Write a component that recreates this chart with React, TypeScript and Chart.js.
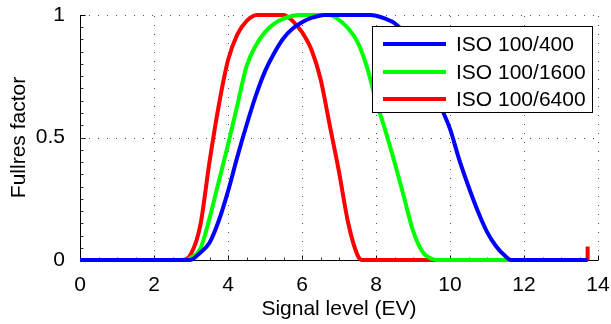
import React, { useEffect, useRef } from 'react';
import { Chart, registerables } from 'chart.js';

Chart.register(...registerables);

const FONT = '"Liberation Sans", Arial, sans-serif';

const seriesLabels = ['ISO 100/400', 'ISO 100/1600', 'ISO 100/6400'];
const seriesColors = ['#0000ff', '#00ff00', '#ff0000'];

const blueX = [0, 2.97, 3.25, 3.5, 3.75, 4.0, 4.25, 4.5, 4.75, 5.0, 5.25, 5.5, 5.75, 6.0, 6.25, 6.5, 6.6, 7.85, 8.0, 8.25, 8.5, 8.75, 9.0, 9.25, 9.5, 9.75, 10.0, 10.25, 10.5, 10.75, 11.0, 11.25, 11.5, 11.65, 13.72];
const blueY = [0, 0, 0.03, 0.07, 0.16, 0.28, 0.42, 0.55, 0.67, 0.77, 0.845, 0.905, 0.945, 0.97, 0.988, 0.998, 1, 1, 0.997, 0.985, 0.967, 0.93, 0.865, 0.785, 0.705, 0.625, 0.535, 0.41, 0.3, 0.2, 0.115, 0.055, 0.015, 0, 0];

const greenX = [0, 2.89, 3.0, 3.25, 3.5, 3.75, 4.0, 4.25, 4.5, 4.75, 5.0, 5.25, 5.5, 5.75, 5.95, 6.75, 7.0, 7.25, 7.5, 7.75, 8.0, 8.25, 8.5, 8.75, 9.0, 9.25, 9.5, 9.65, 13.72];
const greenY = [0, 0, 0.01, 0.045, 0.17, 0.32, 0.47, 0.63, 0.79, 0.875, 0.93, 0.965, 0.985, 0.997, 1, 1, 0.98, 0.945, 0.89, 0.79, 0.65, 0.53, 0.4, 0.26, 0.12, 0.035, 0.005, 0, 0];

const redX = [0, 2.75, 3.0, 3.25, 3.5, 3.75, 4.0, 4.25, 4.5, 4.78, 5.5, 5.75, 6.0, 6.25, 6.5, 6.75, 7.0, 7.25, 7.5, 7.62, 13.72];
const redY = [0, 0, 0.025, 0.14, 0.4, 0.63, 0.815, 0.92, 0.975, 1, 1, 0.975, 0.93, 0.86, 0.74, 0.55, 0.36, 0.15, 0.02, 0, 0];

const spikeX = [13.72, 13.72];
const spikeY = [0, 0.055];

const xTicks = [0, 2, 4, 6, 8, 10, 12, 14];
const yTicks = [0, 0.5, 1];
const yTickLabels = ['0', '0.5', '1'];

const pts = (xs: number[], ys: number[]) => xs.map((x, i) => ({ x, y: ys[i] }));

const framePlugin = {
  id: 'frame',
  beforeDatasetsDraw(chart: any) {
    const { ctx, chartArea: a, scales } = chart;
    const x = scales.x;
    const y = scales.y;
    ctx.save();
    ctx.lineWidth = 1;
    ctx.strokeStyle = '#555';
    ctx.setLineDash([1, 8]);
    for (const v of xTicks) {
      if (v === 0) continue;
      const px = Math.round(x.getPixelForValue(v)) + 0.5;
      ctx.beginPath();
      ctx.moveTo(px, a.bottom);
      ctx.lineTo(px, a.top);
      ctx.stroke();
    }
    for (const v of yTicks) {
      if (v === 0) continue;
      const py = Math.round(y.getPixelForValue(v)) + 0.5;
      ctx.beginPath();
      ctx.moveTo(a.left, py);
      ctx.lineTo(a.right, py);
      ctx.stroke();
    }
    ctx.setLineDash([]);
    ctx.strokeStyle = '#000';
    const lx = Math.round(a.left) + 0.5;
    const by = Math.round(a.bottom) + 0.5;
    ctx.beginPath();
    ctx.moveTo(lx, a.top);
    ctx.lineTo(lx, by);
    ctx.lineTo(a.right, by);
    ctx.stroke();
    ctx.beginPath();
    for (const v of xTicks) {
      const px = Math.round(x.getPixelForValue(v)) + 0.5;
      ctx.moveTo(px, by);
      ctx.lineTo(px, by - 5);
    }
    for (const v of yTicks) {
      const py = Math.round(y.getPixelForValue(v)) + 0.5;
      ctx.moveTo(lx, py);
      ctx.lineTo(lx + 5, py);
    }
    ctx.stroke();
    ctx.strokeStyle = '#333';
    ctx.beginPath();
    for (let i = 1; i < 28; i++) {
      const px = Math.round(x.getPixelForValue(i * 0.5)) + 0.5;
      ctx.moveTo(px, by);
      ctx.lineTo(px, by - 3);
    }
    for (let i = 1; i < 20; i++) {
      const py = Math.round(y.getPixelForValue(i * 0.05)) + 0.5;
      ctx.moveTo(lx, py);
      ctx.lineTo(lx + 3, py);
    }
    ctx.stroke();
    ctx.restore();
  },
  afterDatasetsDraw(chart: any) {
    const { ctx } = chart;
    ctx.save();
    const bx = 372.5, byy = 26.5, bw = 220, bh = 86;
    ctx.fillStyle = '#fff';
    ctx.fillRect(bx, byy, bw, bh);
    ctx.strokeStyle = '#000';
    ctx.lineWidth = 1;
    ctx.strokeRect(bx, byy, bw, bh);
    ctx.font = '21px ' + FONT;
    ctx.textBaseline = 'middle';
    ctx.textAlign = 'left';
    const rows = [44, 72, 99];
    seriesLabels.forEach((lab, i) => {
      ctx.strokeStyle = seriesColors[i];
      ctx.lineWidth = 4;
      ctx.beginPath();
      ctx.moveTo(383, rows[i]);
      ctx.lineTo(446, rows[i]);
      ctx.stroke();
      ctx.fillStyle = '#000';
      ctx.fillText(lab, 456, rows[i] + 1);
    });
    ctx.restore();
  },
};

export default function App() {
  const ref = useRef<HTMLCanvasElement | null>(null);
  useEffect(() => {
    if (!ref.current) return;
    const ds = (label: string, xs: number[], ys: number[], color: string) => ({
      label,
      data: pts(xs, ys),
      borderColor: color,
      backgroundColor: color,
      borderWidth: 4,
      pointRadius: 0,
      fill: false,
      cubicInterpolationMode: 'monotone' as const,
      clip: false as any,
    });
    const chart = new Chart(ref.current, {
      type: 'line',
      data: {
        datasets: [
          ds(seriesLabels[0], blueX, blueY, seriesColors[0]),
          ds(seriesLabels[1], greenX, greenY, seriesColors[1]),
          ds(seriesLabels[2], redX, redY, seriesColors[2]),
          { ...ds('spike', spikeX, spikeY, seriesColors[2]), cubicInterpolationMode: 'default' as const, tension: 0 },
        ],
      },
      options: {
        animation: false,
        responsive: false,
        layout: { padding: { left: 0, right: 13, top: 15, bottom: 0 } },
        plugins: { legend: { display: false }, tooltip: { enabled: false } },
        scales: {
          x: {
            type: 'linear',
            min: 0,
            max: 14,
            grid: { display: false },
            border: { display: false },
            afterBuildTicks: (s: any) => { s.ticks = xTicks.map((v) => ({ value: v })); },
            afterFit: (s: any) => {
              s.height = 64;
              s.paddingLeft = 0;
              s.paddingRight = 0;
            },
            ticks: {
              autoSkip: false,
              maxRotation: 0,
              color: '#000',
              font: { family: FONT, size: 21 },
              padding: 5,
              callback: (v: any) => String(v),
            },
            title: {
              display: true,
              text: 'Signal level (EV)',
              color: '#000',
              font: { family: FONT, size: 21 },
              padding: { top: 0, bottom: 2 },
            },
          },
          y: {
            type: 'linear',
            min: 0,
            max: 1,
            grid: { display: false },
            border: { display: false },
            afterBuildTicks: (s: any) => { s.ticks = yTicks.map((v) => ({ value: v })); },
            afterFit: (s: any) => {
              s.width = 80;
              s.paddingTop = 0;
              s.paddingBottom = 0;
            },
            ticks: {
              color: '#000',
              font: { family: FONT, size: 21 },
              padding: 7,
              callback: (v: any) => {
                const i = yTicks.indexOf(Number(v));
                return i >= 0 ? yTickLabels[i] : '';
              },
            },
            title: {
              display: true,
              text: 'Fullres factor',
              color: '#000',
              font: { family: FONT, size: 21 },
              padding: { top: 7, bottom: 0 },
            },
          },
        },
      },
      plugins: [framePlugin],
    });
    return () => chart.destroy();
  }, []);
  return (
    <canvas
      ref={ref}
      width={611}
      height={324}
      style={{ position: 'fixed', left: 0, top: 0, width: 611, height: 324 }}
    />
  );
}
